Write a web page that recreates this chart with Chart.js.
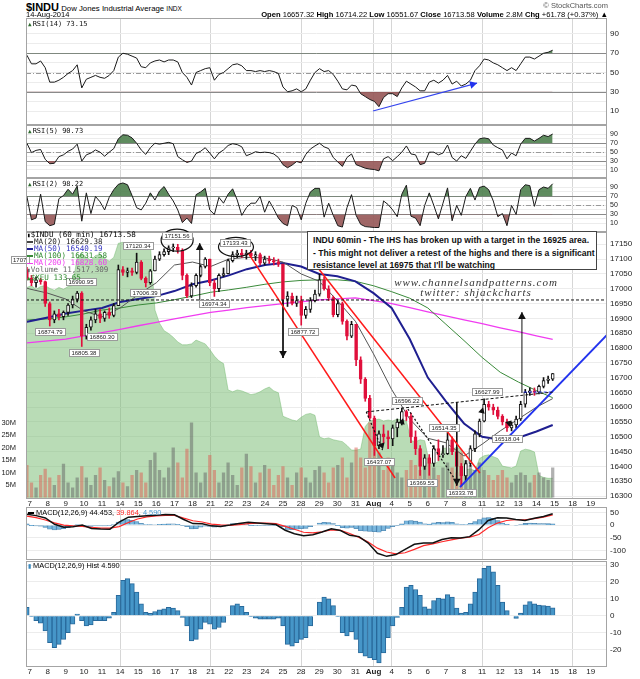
<!DOCTYPE html>
<html lang="en">
<head>
<meta charset="utf-8">
<title>$INDU 60 min - StockCharts</title>
<script src="https://cdn.jsdelivr.net/npm/chart.js"></script>
<style>
  body { margin: 0; background: #fff; }
  #wrap { position: relative; width: 640px; height: 679px; overflow: hidden; font-family: 'Liberation Sans', Arial, sans-serif; }
  canvas { position: absolute; left: 0; }
  .t { position: absolute; white-space: nowrap; color: #000; line-height: 1; }
  .mono { font: 7px 'DejaVu Sans Mono', monospace; color: #111; }
  .ic { color: #2f6b2f; font-size: 6px; margin-right: 1px; }
  #legend { left: 27px; top: 231px; font: 7.6px 'DejaVu Sans Mono', monospace; line-height: 7.1px; }
  #legend .sw { display: inline-block; width: 6px; height: 1.5px; vertical-align: middle; margin-right: 1px; }
  #note { position: absolute; left: 307px; top: 231px; width: 290px; height: 39px; box-sizing: border-box;
          border: 1px solid #444; background: #fff; font: bold 8.6px 'Liberation Sans', Arial, sans-serif;
          line-height: 12.6px; padding: 2px 0 0 5px; white-space: nowrap; color: #111; }
  .wm { position: absolute; left: 356px; width: 240px; text-align: center; font: italic 11px 'Liberation Serif', serif; letter-spacing: 1px; color: #333; }
</style>
</head>
<body>
<div id="wrap">
  <canvas id="rsi14" width="640" height="107" style="top:18px"></canvas>
  <canvas id="rsi5" width="640" height="53" style="top:125px"></canvas>
  <canvas id="rsi2" width="640" height="54" style="top:178px"></canvas>
  <canvas id="main" width="640" height="279" style="top:228px"></canvas>
  <canvas id="macd" width="640" height="53" style="top:507px"></canvas>
  <canvas id="hist" width="640" height="118" style="top:561px"></canvas>

  <div class="t" style="left:26px;top:1px;font-size:7.8px"><b style="font:bold 11px 'Liberation Sans Narrow','Liberation Sans',sans-serif">$INDU</b> Dow Jones Industrial Average <span style="font-size:6.5px">INDX</span></div>
  <div class="t" style="left:26px;top:11px;font-size:7.5px">14-Aug-2014</div>
  <div class="t" style="right:32px;top:2px;font-size:7.5px;color:#555">© StockCharts.com</div>
  <div class="t" style="right:32px;top:11px;font-size:7.6px"><b>Open</b> 16657.32 <b>High</b> 16714.22 <b>Low</b> 16551.67 <b>Close</b> 16713.58 <b>Volume</b> 2.8M <b>Chg</b> +61.78 (+0.37%) ▲</div>

  <div class="t mono" style="left:28px;top:20px"><span class="ic">▲</span>RSI(14) 73.15</div>
  <div class="t mono" style="left:28px;top:127px"><span class="ic">▲</span>RSI(5) 90.73</div>
  <div class="t mono" style="left:28px;top:180px"><span class="ic">▲</span>RSI(2) 98.22</div>

  <div class="t" id="legend">
    <div><span style="font-size:6px">▮</span>$INDU (60 min) 16713.58</div>
    <div style="color:#222"><span class="sw" style="background:#444"></span>MA(20) 16629.38</div>
    <div style="color:#3434c0"><span class="sw" style="background:#1f1f90"></span>MA(50) 16540.19</div>
    <div style="color:#2e8a2e"><span class="sw" style="background:#3a8a3a"></span>MA(100) 16631.58</div>
    <div style="color:#f03cf0"><span class="sw" style="background:#f03cf0"></span>MA(200) 16828.60</div>
    <div style="color:#666"><span style="font-size:6px">▮</span>Volume 11,517,309</div>
    <div style="color:#2e8a2e"><span style="font-size:6px">▲</span>$XEU 133.65</div>
  </div>

  <div id="note">INDU 60min - The IHS has broken up with a target in the 16925 area.<br>- This might not deliver a retest of the highs and there is a significant<br>resistance level at 16975 that I'll be watching</div>
  <div class="wm" style="top:276px">www.channelsandpatterns.com</div>
  <div class="wm" style="top:286px">twitter: shjackcharts</div>

  <div class="t" style="left:28px;top:509px;font-size:7.4px"><span style="display:inline-block;width:6px;height:1.5px;background:#000;vertical-align:middle"></span> MACD(12,26,9) 44.453, <span style="color:#ff2a2a">39.864</span>, <span style="color:#4a9ad0">4.590</span></div>
  <div class="t" style="left:28px;top:562px;font-size:7.4px"><span style="color:#3a8ac0;font-size:6px">▮</span> MACD(12,26,9) Hist 4.590</div>
</div>

<script>
// x axis: one tick per trading day, Jul 7 .. Aug 19
const dayLabels = ['7','8','9','10','11','14','15','16','17','18','21','22','23','24','25','28','29','30','31','Aug','4','5','6','7','8','11','12','13','14','15','18','19'];
const weekStarts = [5, 10, 15, 19, 20, 25, 30];

// price bars, four per trading day
const open = [17065,17035,17020,17030, 17024,16950,16895,16915, 16906,16920,16945,16965, 16985,16840,16870,16895, 16915,16900,16920,16910,
  16943,17065,17055,17060, 17055,17090,17035,17020, 17060,17100,17115,17125, 17138,17140,17130,17045, 16976,17010,17045,17075,
  17100,17020,17000,17045, 17051,17095,17115,17120, 17113,17120,17110,17115, 17086,17100,17095,17090, 17083,16965,16975,16950,
  16960,16910,16930,16960, 16982,17030,17000,16970, 16912,16950,16890,16840, 16880,16760,16695,16630, 16563,16470,16510,16500,
  16493,16530,16550,16585, 16569,16500,16460,16400, 16429,16410,16460,16440, 16443,16490,16450,16400, 16368,16410,16460,16510,
  16553,16610,16600,16590, 16569,16550,16530,16540, 16560,16610,16650,16655, 16651,16670,16690,16695];
const high = [17072,17045,17040,17035, 17026,16955,16925,16930, 16925,16950,16975,16991, 16990,16880,16905,16930, 16930,16925,16935,16950,
  17080,17075,17070,17070, 17120,17095,17040,17065, 17110,17125,17135,17145, 17151,17150,17135,17050, 17020,17050,17080,17105,
  17100,17030,17050,17070, 17100,17125,17130,17133, 17130,17130,17125,17120, 17110,17110,17105,17100, 17083,16990,16985,16975,
  16975,16940,16970,16995, 17050,17040,17010,16975, 16960,16955,16895,16890, 16880,16770,16700,16640, 16570,16520,16540,16520,
  16540,16560,16596,16590, 16580,16520,16470,16440, 16440,16470,16490,16470, 16514,16500,16460,16410, 16420,16470,16520,16560,
  16628,16620,16610,16600, 16575,16560,16550,16570, 16620,16660,16665,16665, 16675,16700,16705,16714];
const low = [17030,17010,17005,17015, 16940,16874,16885,16895, 16895,16910,16935,16955, 16805,16830,16860,16885, 16885,16890,16900,16905,
  16943,17045,17040,17045, 17050,17030,17006,17015, 17060,17095,17110,17115, 17125,17120,17030,16970, 16970,17005,17040,17070,
  17010,16974,16990,17040, 17050,17090,17105,17105, 17100,17105,17095,17080, 17080,17085,17080,17075, 16950,16940,16945,16940,
  16877,16900,16920,16955, 16975,16995,16960,16905, 16905,16880,16827,16835, 16740,16680,16620,16560, 16437,16460,16480,16460,
  16470,16500,16540,16555, 16480,16440,16370,16390, 16370,16400,16420,16430, 16440,16440,16380,16333, 16350,16400,16450,16500,
  16550,16590,16575,16560, 16540,16518,16520,16530, 16555,16600,16640,16640, 16645,16665,16680,16690];
const close = [17035,17020,17030,17024, 16950,16895,16915,16906, 16920,16945,16965,16985, 16840,16870,16895,16915, 16900,16920,16910,16943,
  17065,17055,17060,17055, 17090,17035,17020,17060, 17100,17115,17125,17138, 17140,17130,17045,16976, 17010,17045,17075,17100,
  17020,17000,17045,17051, 17095,17115,17120,17113, 17120,17110,17115,17086, 17100,17095,17090,17083, 16965,16975,16950,16960,
  16910,16930,16960,16982, 17030,17000,16970,16912, 16950,16890,16840,16880, 16760,16695,16630,16563, 16470,16510,16500,16493,
  16530,16550,16585,16569, 16500,16460,16400,16429, 16410,16460,16440,16443, 16490,16450,16400,16368, 16410,16460,16510,16553,
  16610,16600,16590,16569, 16550,16530,16540,16560, 16610,16650,16655,16651, 16670,16690,16695,16713.58];
// volume in millions
const volume = [13,6,4,9, 11.5,8,5,9, 13.5,6,4,8, 12.5,8,5,9, 12,7,4.5,8, 10.5,6,4.5,9, 11,10,6,15, 18,11,8,12, 20,14,8,19.5, 30,10,6,10,
  17,11,6,10, 14,9,5,12, 17.5,12.5,6,10, 13,11.5,5,9, 12.5,8,5,10, 12,8,6,11, 12.5,10,6,12, 13,16,8,14, 20,16,12,30, 24,18,11,16,
  14,10,8,11, 15,13,11,14, 16,12,9,12, 14,12,10,18, 15,13,11,14, 11,9,7,9, 11,8,6,9, 10,9,6,9, 10,8,7,12];
// $XEU overlay (area)
const xeu = [135.68,135.70,135.66,135.69, 135.70,135.67,135.65,135.68, 135.66,135.69,135.70,136.00, 136.04,136.00,135.97,136.02,
  136.03,135.99,135.96,136.00, 136.15,136.16,136.14,136.15, 136.14,136.16,136.15,136.13, 135.44,135.30,135.22,135.19,
  135.15,135.10,135.07,135.07, 135.08,135.12,135.10,135.08, 135.02,134.95,134.90,134.87, 134.59,134.57,134.59,134.58,
  134.56,134.54,134.55,134.57, 134.60,134.62,134.58,134.56, 134.31,134.29,134.27,134.26, 134.30,134.33,134.34,134.32,
  134.09,134.07,134.08,134.06, 134.05,134.04,134.00,133.95, 133.95,133.96,134.20,134.26, 134.27,134.28,134.26,134.27,
  134.26,134.28,134.27,134.26, 134.05,134.04,134.06,134.05, 133.82,133.80,133.83,133.97, 133.97,133.96,133.98,133.96,
  133.74,133.75,133.73,133.86, 133.89,133.90,133.88,133.86, 133.78,133.77,133.76,133.78, 133.94,133.96,133.95,133.93,
  133.68,133.66,133.65,133.65];

// moving averages, read at day positions
const maDays = [-0.15,0,1,2,3,4,5,6,7,8,9,10,11,12,13,14,15,16,17,18,19,20,21,22,23,24,25,26,27,28,28.9];
const ma20 = [17002,16999,16985,16965,16925,16905,16935,16980,17020,17080,17090,17075,17100,17106,17104,17090,17050,17025,16960,16890,16780,16660,16560,16495,16480,16435,16475,16520,16560,16600,16629];
const ma50 = [16888,16890,16903,16916,16926,16935,16955,16965,16975,16992,17015,17028,17045,17066,17080,17087,17075,17050,17042,17025,16985,16935,16830,16700,16620,16545,16500,16490,16497,16518,16540];
const ma100 = [16894,16895,16898,16905,16915,16928,16935,16945,16952,16963,16975,16988,16996,17005,17015,17023,17028,17030,17030,17025,17010,16990,16968,16935,16880,16825,16768,16718,16685,16656,16632];
const ma200 = [16817,16818,16824,16830,16841,16852,16863,16875,16886,16898,16909,16920,16928,16936,16943,16950,16956,16962,16966,16969,16960,16950,16936,16922,16908,16895,16882,16868,16855,16841,16829];

// indicators, four per day
const rsi14 = [68,59,59,62, 55,40,40,42, 45,49,52,58, 34,43,45,47, 45,44,47,52, 66,70,69,67, 65,56,55,60, 62,63,61,63, 63,61,50,45,
  37,50,52,54, 55,42,48,50, 54,58,59,57, 52,52,51,52, 51,52,51,49, 35,30,31,33, 30,33,42,50, 54,51,52,48, 41,33,32,37, 36,28,25,22,
  20,14.5,24,28, 28,25,34,41, 38,35,31,31, 40,42,39,42, 47,38,41,36, 38,42,52,57, 64,63,60,58, 55,52,55,52, 59,66,66,64, 67,70,71,73.15];
const rsi5 = [70,49,54,56, 34,24,25,40, 44,52,57,68, 30,44,48,55, 50,41,50,58, 80,89,88,82, 70,55,45,60, 70,68,70,72, 69,40,33,27,
  30,47,52,60, 48,35,48,55, 65,69,67,62, 42,46,51,49, 50,49,46,38, 22,15,21,29, 26,45,57,64, 70,62,58,38, 28,18,38,46, 22,18,14,12,
  11,8,35,40, 31,40,50,64, 46,44,22,25, 50,50,44,48, 66,38,30,42, 36,52,68,80, 82,80,66,60, 55,35,48,42, 68,81,81,75, 81,88,85,90.73];
const rsi2 = [70,18,22,75, 14,5,8,65, 72,86,75,93, 15,78,32,70, 58,40,68,85, 97,100,96,72, 45,40,55,78, 62,82,92,75, 60,40,12,22,
  10,74,80,88, 40,30,68,55, 75,87,62,28, 45,55,55,70, 35,60,42,22, 10,5,50,45, 18,55,80,88, 88,24,55,28, 5,2,45,74, 28,8,3,2,
  1,1,60,52, 40,25,75,95, 26,22,5,50, 78,50,20,55, 89,16,50,28, 70,88,62,90, 93,85,60,25, 32,5,50,30, 85,96,94,48, 85,91,88,98.22];
const macdHist = [5,-0.5,-3,-4.5, -9,-16,-19,-17, -14,-10,-5,1, -3,-6,-5.5,-3, -3,-3,-1.5,2, 12,21,22,19, 14,7,2,1.4, 2.5,3.4,4,5,
  4.5,3,-1,-6, -15,-14,-8,-4, -5,-8,-7,-4, 0,6,7,5.5, 2,-0.5,-1.5,-2, -2,-2,-2,-1.5, -6,-17,-18,-16, -14,-13,-6,0, 8,11,10,6,
  -0.5,-10,-12,-9.5, -14,-22,-24,-25, -26,-28,-22,-13, -6,-1,5,17, 18,15.5,12,5.3, 4,9,10.5,10, 12.5,11,4.5,1.5, 2,7,14,22,
  28,29.4,26,18, 8,3,0,-1.6, 1.5,6.5,8.3,7, 6.3,6,5.7,4.59];
// MACD and signal, two per day
const macdLine = [42,37,28,3,-8,-6,0,-13,-15,-16,12,31,34,37,38,41,40,22,6,5,-3,-5,0,6,11,8,5,2,-20,-34,-42,-38,-27,-14,-21,-40,-45,-70,-110,-122,-115,-95,-75,-70,-70,-56,-49,-50,-45,-18,18,29,28,22,18,27,34,44.45];
const macdSignal = [35,29,20,9,0,-3,-5,-9,-12,-12,-6,10,24,32,36,38,38,27,17,12,4,1,-1,2,6,8,8,6,-5,-16,-28,-30,-26,-19,-20,-33,-48,-66,-90,-105,-112,-108,-95,-80,-73,-65,-58,-51,-47,-37,-10,8,18,21,21,25,31,39.86];

// axis ticks
const priceTicks = [16300,16350,16400,16450,16500,16550,16600,16650,16700,16750,16800,16850,16900,16950,17000,17050,17100,17150];
const volTicks = [5,10,15,20,25,30];
const rsiTicks = [10,20,30,40,50,60,70,80,90];
const rsiLevels = [70, 50, 30];
const macdTicks = [50,0,-50,-100];
const histTicks = [30,20,10,0,-10,-20];

// hand-drawn annotations (day, price)
const resistance = 16962;
const redLines = [[12.07,17121,20.19,16361], [15.93,17070,24.88,16378]];
const blueLine = [23.78,16330,31.9,16844];
const neckline = [18.6,16584,28.9,16651];
const dottedLegs = [[18.6,16584,19.5,16455], [20.9,16594,23.6,16347]];
const flatBlue = [27.3,16651,28.9,16651];
const vArrows = [{ d: 9.4, from: 16962, to: 17154 }, { d: 14.0, from: 16962, to: 16766 }, { d: 23.6, from: 16617, to: 16335 }, { d: 27.2, from: 16648, to: 16921 }];
const ihsMarks = [{ d: 19.52, p: 16458, up: false }, { d: 20.63, p: 16563, up: true }, { d: 25.05, p: 16600, up: true }, { d: 26.54, p: 16533, up: false }];
const rings = [{ d: 8.15, p: 17164, rx: 16, ry: 11 }, { d: 11.4, p: 17141, rx: 17.5, ry: 9.5 }];
const priceLabels = [
  { t: '17120.34', d: 5.99, p: 17144 }, { t: '17151.56', d: 8.14, p: 17178 }, { t: '17133.43', d: 11.35, p: 17154 },
  { t: '16990.95', d: 2.84, p: 17023 }, { t: '17006.39', d: 6.38, p: 16986 }, { t: '16974.34', d: 10.19, p: 16948 },
  { t: '16874.79', d: 1.13, p: 16854 }, { t: '16860.30', d: 4.0, p: 16837 }, { t: '16805.38', d: 3.0, p: 16783 },
  { t: '16877.72', d: 15.1, p: 16854 }, { t: '16596.22', d: 20.85, p: 16621 }, { t: '16437.07', d: 19.3, p: 16415 },
  { t: '16514.35', d: 22.9, p: 16530 }, { t: '16369.55', d: 21.68, p: 16344 }, { t: '16333.78', d: 23.83, p: 16310 },
  { t: '16627.99', d: 25.27, p: 16651 }, { t: '16518.04', d: 26.38, p: 16492 }, { t: '1707', d: -0.55, p: 17097 }
];
const rsiArrow = [18.97, 10, 24.72, 39];

const FONT = "'Liberation Sans', Arial, sans-serif";
Chart.defaults.font.family = FONT;
const RSI_UP = 'rgba(78,128,78,0.9)', RSI_DN = 'rgba(150,86,86,0.9)', DOWN = '#e0103c';

// bar index -> day position (first bar at the left edge, last bar on Aug 14 close)
const xq = i => -0.15 + i * 29.05 / (close.length - 1);
const xh = j => -0.15 + j * 29.05 / (macdLine.length - 1);
const pts = (arr, xf) => arr.map((v, i) => ({ x: xf(i), y: v }));
const maPts = arr => arr.map((v, i) => ({ x: maDays[i], y: v }));
const isUp = i => close[i] >= open[i];
const seg = (a, color, width, dash) => ({ type: 'line', data: [{ x: a[0], y: a[1] }, { x: a[2], y: a[3] }], borderColor: color, borderWidth: width, borderDash: dash || [], pointRadius: 0, fill: false, order: 1 });

function xAxis(show, h) {
  return {
    type: 'linear', min: -0.2, max: 31.9, offset: false, bounds: 'data',
    afterBuildTicks: s => { s.ticks = dayLabels.map((_, i) => ({ value: i })); },
    afterFit: s => { s.height = h; s.paddingLeft = 0; s.paddingRight = 0; },
    grid: { offset: false, drawTicks: false, color: c => (c.tick && weekStarts.includes(c.tick.value)) ? '#d6d6d6' : 'rgba(0,0,0,0)' },
    border: { display: false },
    ticks: { display: show, autoSkip: false, maxRotation: 0, padding: 0, color: '#222',
      font: c => ({ family: FONT, size: 8, weight: (c.tick && c.tick.value === 19) ? 'bold' : 'normal' }),
      callback: (v, i) => dayLabels[i] }
  };
}

function yRight(min, max, ticks, fmt, size) {
  return {
    position: 'right', min, max, bounds: 'data',
    afterBuildTicks: s => { s.ticks = ticks.map(v => ({ value: v })); },
    afterFit: s => { s.width = 33; s.paddingTop = 0; s.paddingBottom = 0; },
    grid: { drawTicks: false, color: '#ececec' },
    border: { display: false },
    ticks: { autoSkip: false, padding: 3, color: '#222', font: { family: FONT, size }, callback: fmt }
  };
}

// grey frame around every panel
const framePlugin = {
  id: 'frame',
  afterDraw(chart) {
    const a = chart.chartArea, c = chart.ctx;
    c.save();
    c.strokeStyle = '#a4a4a4';
    c.lineWidth = 1;
    c.strokeRect(Math.round(a.left) + 0.5, Math.round(a.top) + 0.5, Math.round(a.right - a.left) - 1, Math.round(a.bottom - a.top) - 1);
    c.restore();
  }
};

// 70 / 50 / 30 lines on the RSI panels
const levelsPlugin = {
  id: 'levels',
  beforeDatasetsDraw(chart) {
    const { ctx, chartArea: a, scales: { y } } = chart;
    ctx.save();
    rsiLevels.forEach(l => {
      const py = Math.round(y.getPixelForValue(l)) + 0.5;
      ctx.strokeStyle = l === 50 ? '#999' : '#8a8a8a';
      ctx.setLineDash(l === 50 ? [5, 2, 1, 2] : []);
      ctx.beginPath(); ctx.moveTo(a.left, py); ctx.lineTo(a.right, py); ctx.stroke();
    });
    ctx.restore();
  }
};

function tri(ctx, x, y, angle, size, color) {
  ctx.save();
  ctx.translate(x, y); ctx.rotate(angle);
  ctx.fillStyle = color;
  ctx.beginPath(); ctx.moveTo(0, 0); ctx.lineTo(-size, -size * 0.55); ctx.lineTo(-size, size * 0.55); ctx.closePath(); ctx.fill();
  ctx.restore();
}

const common = {
  responsive: false, animation: false,
  plugins: { legend: { display: false }, tooltip: { enabled: false } }
};

function rsiChart(id, values, min, max, size, extra, extraPlugins) {
  const data = pts(values, xq);
  return new Chart(document.getElementById(id), {
    type: 'line',
    data: { datasets: [
      { data, borderColor: '#1a1a1a', borderWidth: 1, pointRadius: 0, fill: { target: { value: 70 }, above: RSI_UP, below: 'rgba(0,0,0,0)' }, order: 2 },
      { data, borderColor: 'rgba(0,0,0,0)', borderWidth: 1, pointRadius: 0, fill: { target: { value: 30 }, above: 'rgba(0,0,0,0)', below: RSI_DN }, order: 3 }
    ].concat(extra || []) },
    options: Object.assign({}, common, {
      layout: { padding: { left: 26 } },
      scales: { x: xAxis(false, 0), y: yRight(min, max, rsiTicks, v => (v % 20 === 10 ? String(v) : ''), size) }
    }),
    plugins: [levelsPlugin, framePlugin].concat(extraPlugins || [])
  });
}

const rsiArrowHead = {
  id: 'rsiArrowHead',
  afterDatasetsDraw(chart) {
    const { x, y } = chart.scales;
    const x0 = x.getPixelForValue(rsiArrow[0]), y0 = y.getPixelForValue(rsiArrow[1]);
    const x1 = x.getPixelForValue(rsiArrow[2]), y1 = y.getPixelForValue(rsiArrow[3]);
    tri(chart.ctx, x1, y1, Math.atan2(y1 - y0, x1 - x0), 7, '#2233ee');
  }
};

rsiChart('rsi14', rsi14, -4.5, 106.6, 8, [seg(rsiArrow, '#3344ee', 1.2)], [rsiArrowHead]);
rsiChart('rsi5', rsi5, -8, 111, 7);
rsiChart('rsi2', rsi2, -9, 111, 7);

// drawings on the price panel
const mainMarks = {
  id: 'mainMarks',
  afterDatasetsDraw(chart) {
    const { ctx, scales: { x, y } } = chart;
    ctx.save();
    ctx.strokeStyle = '#111';
    ctx.lineWidth = 1.2;
    rings.forEach(r => {
      ctx.beginPath();
      ctx.ellipse(x.getPixelForValue(r.d), y.getPixelForValue(r.p), r.rx, r.ry, 0, 0, Math.PI * 2);
      ctx.stroke();
    });
    vArrows.forEach(a => {
      const px = x.getPixelForValue(a.d), py = y.getPixelForValue(a.to);
      tri(ctx, px, py, a.to > a.from ? -Math.PI / 2 : Math.PI / 2, 7, '#111');
    });
    ihsMarks.forEach(m => {
      tri(ctx, x.getPixelForValue(m.d), y.getPixelForValue(m.p), m.up ? -Math.PI / 2.4 : Math.PI / 2.4, 6, '#111');
    });
    ctx.font = '6px ' + FONT;
    ctx.textAlign = 'center';
    ctx.textBaseline = 'middle';
    priceLabels.forEach(l => {
      const px = x.getPixelForValue(l.d), py = Math.round(y.getPixelForValue(l.p));
      const w = Math.ceil(ctx.measureText(l.t).width) + 4;
      ctx.fillStyle = '#fff';
      ctx.fillRect(px - w / 2, py - 4, w, 8);
      ctx.strokeStyle = '#9a9a9a';
      ctx.lineWidth = 1;
      ctx.strokeRect(Math.round(px - w / 2) + 0.5, py - 3.5, w, 7);
      ctx.fillStyle = '#222';
      ctx.fillText(l.t, px, py + 0.5);
    });
    ctx.restore();
  }
};

new Chart(document.getElementById('main'), {
  type: 'line',
  data: { datasets: [
    { yAxisID: 'xeu', data: pts(xeu, xq), borderWidth: 1, borderColor: 'rgba(120,188,115,0.5)', pointRadius: 0, fill: 'start', backgroundColor: 'rgba(120,188,115,0.52)', order: 30 },
    { type: 'bar', yAxisID: 'vol', data: pts(volume, xq), backgroundColor: volume.map((_, i) => isUp(i) ? 'rgba(100,100,100,0.5)' : 'rgba(222,92,82,0.5)'),
      barPercentage: 0.72, categoryPercentage: 1, grouped: false, order: 29 },
    { data: maPts(ma200), borderColor: '#f03cf0', borderWidth: 1.3, pointRadius: 0, fill: false, order: 20 },
    { data: maPts(ma100), borderColor: '#3a8a3a', borderWidth: 1, pointRadius: 0, fill: false, order: 19 },
    { data: maPts(ma50), borderColor: '#1f1f90', borderWidth: 2, pointRadius: 0, fill: false, order: 18 },
    { data: maPts(ma20), borderColor: '#555', borderWidth: 1, pointRadius: 0, fill: false, order: 17 },
    { type: 'bar', data: close.map((_, i) => ({ x: xq(i), y: [low[i], high[i]] })), backgroundColor: close.map((_, i) => isUp(i) ? '#111' : DOWN),
      barThickness: 1, grouped: false, order: 10 },
    { type: 'bar', data: close.map((_, i) => ({ x: xq(i), y: [open[i], close[i]] })), backgroundColor: close.map((_, i) => isUp(i) ? '#fff' : DOWN),
      borderColor: close.map((_, i) => isUp(i) ? '#111' : DOWN), borderWidth: 1, borderSkipped: false, barThickness: 3, minBarLength: 1, grouped: false, order: 9 },
    seg([-0.2, resistance, 31.9, resistance], '#111', 1, [3, 2]),
    seg(neckline, '#111', 1, [3, 2]),
    ...dottedLegs.map(l => seg(l, '#111', 1.2, [2, 2])),
    ...redLines.map(l => seg(l, '#ff1a1a', 1.5)),
    seg(blueLine, '#2233ee', 2),
    seg(flatBlue, '#2233ee', 1, [3, 2]),
    ...vArrows.map(a => seg([a.d, a.from, a.d, a.to], '#111', 1))
  ] },
  options: Object.assign({}, common, {
    layout: { padding: { top: 4 } },
    scales: {
      x: xAxis(true, 8),
      y: yRight(16290, 17191.5, priceTicks, v => String(v), 8),
      vol: { position: 'left', min: -0.6, max: 106.2, bounds: 'data',
        afterBuildTicks: s => { s.ticks = volTicks.map(v => ({ value: v })); },
        afterFit: s => { s.width = 26; s.paddingTop = 0; s.paddingBottom = 0; },
        grid: { display: false }, border: { display: false },
        ticks: { autoSkip: false, padding: 2, color: '#222', font: { family: FONT, size: 7.5 }, callback: v => v + 'M' } },
      // laid out but invisible, so the area can fill down to its bottom
      xeu: { position: 'left', min: 133.43, max: 136.27, bounds: 'data',
        afterFit: s => { s.width = 0; s.paddingTop = 0; s.paddingBottom = 0; },
        grid: { display: false }, border: { display: false }, ticks: { display: false } }
    }
  }),
  plugins: [framePlugin, mainMarks]
});

new Chart(document.getElementById('macd'), {
  type: 'line',
  data: { datasets: [
    { type: 'bar', data: pts(macdHist, xq), backgroundColor: 'rgba(110,176,218,0.9)', borderColor: 'rgba(40,100,150,0.8)', borderWidth: 0.6,
      barPercentage: 1, categoryPercentage: 1, grouped: false, order: 3 },
    { data: pts(macdSignal, xh), borderColor: '#ff2a2a', borderWidth: 1.2, pointRadius: 0, fill: false, order: 2 },
    { data: pts(macdLine, xh), borderColor: '#111', borderWidth: 1.5, pointRadius: 0, fill: false, order: 1 }
  ] },
  options: Object.assign({}, common, {
    layout: { padding: { left: 26 } },
    scales: { x: xAxis(false, 0), y: yRight(-136.3, 70.7, macdTicks, v => String(v), 8) }
  }),
  plugins: [framePlugin]
});

new Chart(document.getElementById('hist'), {
  type: 'line',
  data: { datasets: [
    { type: 'bar', data: pts(macdHist, xq), backgroundColor: 'rgb(70,150,200)', borderColor: 'rgb(40,105,155)', borderWidth: 1,
      barPercentage: 1, categoryPercentage: 1, grouped: false, order: 1 }
  ] },
  options: Object.assign({}, common, {
    layout: { padding: { left: 26 } },
    scales: { x: xAxis(true, 12), y: yRight(-30.4, 32.4, histTicks, v => String(v), 8) }
  }),
  plugins: [framePlugin]
});
</script>
</body>
</html>
